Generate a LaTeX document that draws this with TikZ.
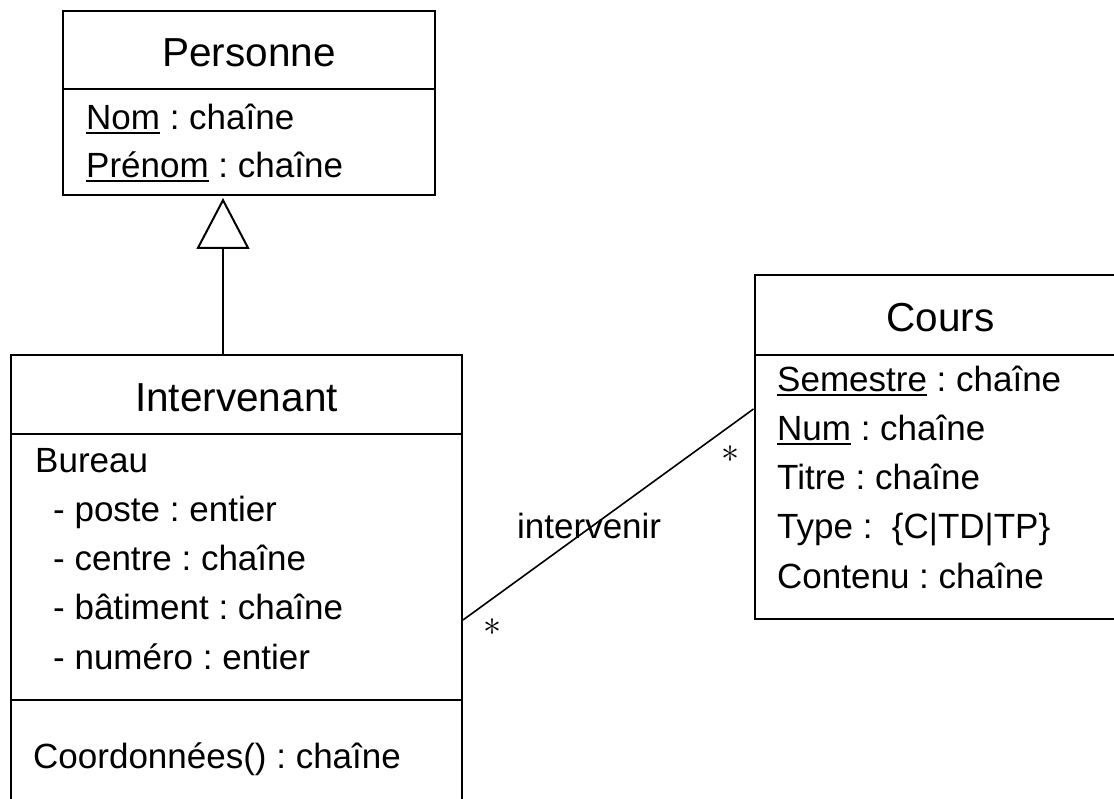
\documentclass[tikz,border=0pt]{standalone}
\usepackage{fontspec}
\usepackage{graphicx}
\setmainfont{Liberation Sans}
\usetikzlibrary{arrows.meta}
\frenchspacing
% underlined key attribute
\newlength\keyw
\newcommand\keyattr[1]{\settowidth\keyw{#1}\rlap{\rule[-4.5pt]{\keyw}{2pt}}#1}
% multiplicity star
\newcommand\manystar{\scalebox{1.45}{$\ast$}}
\begin{document}
\begin{tikzpicture}[x=1pt,y=-1pt,
  classbox/.style={draw,line width=2pt,inner sep=0pt},
  title/.style={anchor=base,inner sep=0pt,font=\fontsize{40.5}{48}\selectfont},
  attr/.style={anchor=base west,inner sep=0pt,font=\fontsize{35}{42}\selectfont},
  mult/.style={inner sep=0pt,font=\fontsize{24.88}{30}\selectfont},
  edge/.style={line width=2pt},
  link/.style={line width=1.6pt}]
\useasboundingbox (0,0) rectangle (1114,799);
\clip (0,0) rectangle (1114,799);

% class boxes
\node[classbox,minimum width=372pt,minimum height=184pt] (personne) at (249,103) {};
\node[classbox,minimum width=451.5pt,minimum height=485pt] (intervenant) at (236.25,597.5) {};
\node[classbox,minimum width=371.5pt,minimum height=344pt] (cours) at (940.25,447) {};

% compartment dividers
\draw[edge] (personne.west |- 0,89) -- (personne.east |- 0,89);
\draw[edge] (intervenant.west |- 0,434) -- (intervenant.east |- 0,434);
\draw[edge] (intervenant.west |- 0,700) -- (intervenant.east |- 0,700);
\draw[edge] (cours.west |- 0,355) -- (cours.east |- 0,355);

% Personne
\node[title] (tPersonne) at (249,67) {Personne};
\node[attr] (aNom) at (86,129.5) {\keyattr{Nom} : chaîne};
\node[attr] (aPrenom) at (86,178) {\keyattr{Prénom} : chaîne};

% Intervenant
\node[title] (tIntervenant) at (236.5,412) {Intervenant};
\node[attr] (aBureau) at (35,472) {Bureau};
\node[attr] (aPoste) at (53,521) {- poste : entier};
\node[attr] (aCentre) at (53,570) {- centre : chaîne};
\node[attr] (aBatiment) at (53,619.5) {- bâtiment : chaîne};
\node[attr] (aNumero) at (53,669) {- numéro : entier};
\node[attr] (oCoord) at (33,768.5) {Coordonnées() : chaîne};

% Cours
\node[title] (tCours) at (940.25,332) {Cours};
\node[attr] (aSemestre) at (777,392) {\keyattr{Semestre} : chaîne};
\node[attr] (aNum) at (777,440.5) {\keyattr{Num} : chaîne};
\node[attr] (aTitre) at (777,489.5) {Titre : chaîne};
\node[attr] (aType) at (777,538.5) {Type :\ \ \{C|TD|TP\}};
\node[attr] (aContenu) at (777,588) {Contenu : chaîne};

% generalisation Intervenant -> Personne
\coordinate (genx) at (223,0);
\draw[edge,-{Triangle[open,length=51pt,width=53pt]}]
  (intervenant.north -| genx) -- ([yshift=-2pt]personne.south -| genx);

% association intervenir
\coordinate (ya) at (0,620);
\coordinate (yb) at (0,409);
\draw[link] (intervenant.east |- ya) -- (cours.west |- yb);
\node[attr] (assocName) at (517,538) {intervenir};
\node[mult] (multA) at (493,627) {\manystar};
\node[mult] (multB) at (731,454) {\manystar};
\end{tikzpicture}
\end{document}
